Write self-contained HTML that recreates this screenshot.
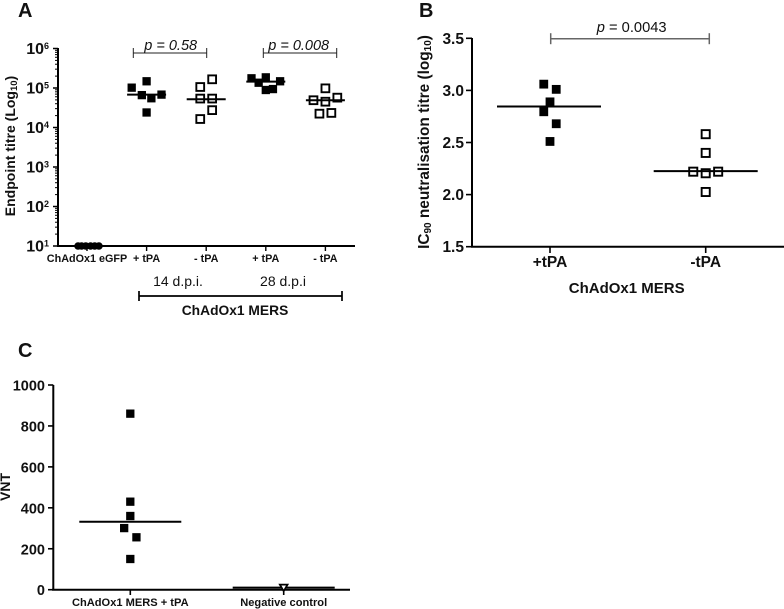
<!DOCTYPE html>
<html lang="en">
<head>
<meta charset="utf-8">
<title>Panel chart</title>
<style>
html,body{margin:0;padding:0;background:#fff;}
svg{display:block;font-family:"Liberation Sans",sans-serif;filter:blur(0.35px);}
text{fill:#111;}
.b{font-weight:bold;}
</style>
</head>
<body>
<svg id="fig" width="784" height="609" viewBox="0 0 784 609" xmlns="http://www.w3.org/2000/svg">
  <text class="b" x="18" y="17" font-size="20">A</text>
  <text class="b" x="419" y="17" font-size="20">B</text>
  <text class="b" x="18" y="357" font-size="20">C</text>

  <text class="b" font-size="14" text-anchor="middle" transform="translate(15,146) rotate(-90)">Endpoint titre (Log<tspan font-size="9.5" dy="2">10</tspan><tspan dy="-2">)</tspan></text>
  <text x="170.7" y="50" font-size="14.5" font-style="italic" text-anchor="middle">p = 0.58</text>
  <text x="298.7" y="50" font-size="14.5" font-style="italic" text-anchor="middle">p = 0.008</text>
  <text x="178" y="286" font-size="14" text-anchor="middle">14 d.p.i.</text>
  <text x="283" y="286" font-size="14" text-anchor="middle">28 d.p.i</text>
  <text class="b" x="235" y="315" font-size="13.8" text-anchor="middle">ChAdOx1 MERS</text>

  <text class="b" font-size="15.4" text-anchor="middle" transform="translate(429,142) rotate(-90)">IC<tspan font-size="10" dy="2">90</tspan><tspan dy="-2"> neutralisation titre (log</tspan><tspan font-size="10" dy="2">10</tspan><tspan dy="-2">)</tspan></text>
  <text x="631.7" y="32" font-size="14.7" text-anchor="middle"><tspan font-style="italic">p</tspan> = 0.0043</text>
  <text class="b" x="626.7" y="293" font-size="15" text-anchor="middle">ChAdOx1 MERS</text>

  <text class="b" font-size="14" text-anchor="middle" transform="translate(10,487) rotate(-90)">VNT</text>
  <g id="marks"></g>
</svg>
<script>
// ---------- Panel A data ----------
var aCategories = ['ChAdOx1 eGFP', '+ tPA', '- tPA', '+ tPA', '- tPA'];
var aTickExponents = [1, 2, 3, 4, 5, 6];
var aEgfp = [10, 10, 10, 10, 10, 10];
var aEgfpJitter = [-0.15, -0.09, -0.02, 0.06, 0.13, 0.2];
var aPlus14 = [102000, 148000, 66000, 55000, 68000, 24000];
var aPlus14Jitter = [-0.25, 0, -0.08, 0.08, 0.25, 0];
var aMinus14 = [106000, 166000, 54000, 54000, 27500, 16400];
var aMinus14Jitter = [-0.1, 0.1, -0.1, 0.1, 0.1, -0.1];
var aPlus28 = [176000, 186000, 136000, 148000, 89000, 94000];
var aPlus28Jitter = [-0.24, 0, -0.12, 0.24, 0, 0.12];
var aMinus28 = [98000, 57000, 49000, 45000, 22400, 23400];
var aMinus28Jitter = [0, 0.2, -0.2, 0, -0.1, 0.1];
var aCentres = [10, 68000, 52000, 145000, 49000];

// ---------- Panel B data ----------
var bCategories = ['+tPA', '-tPA'];
var bTicks = [1.5, 2.0, 2.5, 3.0, 3.5];
var bPlus = [3.06, 3.01, 2.89, 2.795, 2.68, 2.51];
var bPlusJitter = [-0.04, 0.04, 0, -0.04, 0.04, 0];
var bMinus = [2.58, 2.40, 2.22, 2.22, 2.205, 2.025];
var bMinusJitter = [0, 0, -0.08, 0.08, 0, 0];
var bCentres = [2.845, 2.225];

// ---------- Panel C data ----------
var cCategories = ['ChAdOx1 MERS + tPA', 'Negative control'];
var cTicks = [0, 200, 400, 600, 800, 1000];
var cPlus = [860, 430, 360, 301, 256, 150];
var cPlusJitter = [0, 0, 0, -0.04, 0.04, 0];
var cNegative = [10];
var cCentres = [332, 10];

// ---------- Axis functions ----------
function axAY(v) { return 246 - 39.5 * (Math.log10(v) - 1); }
function axAX(i) { return 87 + 59.6 * i; }
function axBY(v) { return 246.7 - 104.2 * (v - 1.5); }
function axBX(i) { return 550 + 155.7 * i; }
function axCY(v) { return 589.7 - 0.2047 * v; }
function axCX(i) { return 130.3 + 153.4 * i; }

var NS = 'http://www.w3.org/2000/svg';
var root = document.getElementById('marks');

function axisLine(x1, y1, x2, y2, w, colour) {
  var el = document.createElementNS(NS, 'line');
  
  
  el.setAttribute('x1', x1);
  el.setAttribute('y1', y1);
  el.setAttribute('x2', x2);
  el.setAttribute('y2', y2);
  el.setAttribute('stroke', colour || '#000');
  el.setAttribute('stroke-width', w);
  root.appendChild(el);
}
function tickMark(x1, y1, x2, y2, w) {
  var el = document.createElementNS(NS, 'line');
  
  
  el.setAttribute('x1', x1);
  el.setAttribute('y1', y1);
  el.setAttribute('x2', x2);
  el.setAttribute('y2', y2);
  el.setAttribute('stroke', '#000');
  el.setAttribute('stroke-width', w);
  root.appendChild(el);
}
function tickLabel(x, y, str, size, anchor) {
  var el = document.createElementNS(NS, 'text');
  
  
  el.setAttribute('class', 'b');
  el.setAttribute('x', x);
  el.setAttribute('y', y);
  el.setAttribute('font-size', size);
  el.setAttribute('text-anchor', anchor);
  el.textContent = str;
  root.appendChild(el);
  return el;
}
function centreLine(cx, cy, half) {
  var el = document.createElementNS(NS, 'line');
  
  
  el.setAttribute('x1', cx - half);
  el.setAttribute('y1', cy);
  el.setAttribute('x2', cx + half);
  el.setAttribute('y2', cy);
  el.setAttribute('stroke', '#000');
  el.setAttribute('stroke-width', 2);
  root.appendChild(el);
}
function squarePoint(cx, cy, size, filled) {
  var el = document.createElementNS(NS, 'rect');
  
  
  el.setAttribute('x', cx - size / 2);
  el.setAttribute('y', cy - size / 2);
  el.setAttribute('width', size);
  el.setAttribute('height', size);
  el.setAttribute('fill', filled ? '#000' : 'none');
  el.setAttribute('stroke', '#000');
  el.setAttribute('stroke-width', filled ? 0 : 1.9);
  root.appendChild(el);
}
function circlePoint(cx, cy, r) {
  var el = document.createElementNS(NS, 'circle');
  
  
  el.setAttribute('cx', cx);
  el.setAttribute('cy', cy);
  el.setAttribute('r', r);
  el.setAttribute('fill', '#000');
  root.appendChild(el);
}
function trianglePoint(cx, cy) {
  var el = document.createElementNS(NS, 'polygon');
  
  
  el.setAttribute('points', (cx - 3.8) + ',' + (cy - 3) + ' ' + (cx + 3.8) + ',' + (cy - 3) + ' ' + cx + ',' + (cy + 3.5));
  el.setAttribute('fill', '#fff');
  el.setAttribute('stroke', '#000');
  el.setAttribute('stroke-width', 1.8);
  root.appendChild(el);
}
function bracket(x1, x2, y, cap, colour, w) {
  axisLine(x1, y, x2, y, w, colour);
  axisLine(x1, y - cap, x1, y + cap, w, colour);
  axisLine(x2, y - cap, x2, y + cap, w, colour);
}
function squares(values, jitter, cat, xFn, yFn, spacing, size, filled) {
  values.forEach(function (v, k) {
    squarePoint(xFn(cat) + jitter[k] * spacing, yFn(v), size, filled);
  });
}

// ---------- Panel A ----------
axisLine(58, 48, 58, 247, 2);
axisLine(57, 246, 355, 246, 2);
aTickExponents.forEach(function (e) {
  var y = axAY(Math.pow(10, e));
  tickMark(53, y, 58, y, 1.5);
  var t = tickLabel(49, y + 5.5, '10', 16, 'end');
  var s = document.createElementNS(NS, 'tspan');
  
  
  s.setAttribute('font-size', '9');
  s.setAttribute('dy', '-5');
  s.textContent = String(e);
  t.appendChild(s);
  if (e < 6) {
    for (var m = 2; m < 10; m++) {
      var ym = axAY(m * Math.pow(10, e));
      tickMark(55, ym, 58, ym, 1);
    }
  }
});
aCategories.forEach(function (c, i) {
  tickMark(axAX(i), 246, axAX(i), 251, 1.4);
  tickLabel(axAX(i), 262, c, 10.8, 'middle');
});
centreLine(axAX(0), axAY(aCentres[0]), 13);
aEgfp.forEach(function (v, k) {
  circlePoint(axAX(0) + aEgfpJitter[k] * 59.6, axAY(v), 3.8);
});
squares(aPlus14, aPlus14Jitter, 1, axAX, axAY, 59.6, 8.3, true);
squares(aMinus14, aMinus14Jitter, 2, axAX, axAY, 59.6, 7.8, false);
squares(aPlus28, aPlus28Jitter, 3, axAX, axAY, 59.6, 8.3, true);
squares(aMinus28, aMinus28Jitter, 4, axAX, axAY, 59.6, 7.8, false);
[1, 2, 3, 4].forEach(function (i) {
  centreLine(axAX(i), axAY(aCentres[i]), 19.5);
});
bracket(133.3, 206.7, 53, 5, '#222', 1);
bracket(263.3, 336.7, 53, 5, '#222', 1);
bracket(139, 342, 296, 5, '#000', 1.7);

// ---------- Panel B ----------
axisLine(472, 38, 472, 247.5, 2);
axisLine(471, 246.7, 784, 246.7, 2);
bTicks.forEach(function (v) {
  var y = axBY(v);
  tickMark(466, y, 472, y, 1.6);
  tickLabel(464, y + 5.5, v.toFixed(1), 15.5, 'end');
});
bCategories.forEach(function (c, i) {
  tickMark(axBX(i), 246.7, axBX(i), 253, 1.6);
  tickLabel(axBX(i), 267, c, 15.5, 'middle');
});
squares(bPlus, bPlusJitter, 0, axBX, axBY, 155.7, 8.8, true);
squares(bMinus, bMinusJitter, 1, axBX, axBY, 155.7, 8.1, false);
centreLine(axBX(0) - 1, axBY(bCentres[0]), 52);
centreLine(axBX(1), axBY(bCentres[1]), 52);
bracket(550.7, 709.3, 38.7, 5.5, '#666', 1.5);

// ---------- Panel C ----------
axisLine(53.3, 385, 53.3, 590.5, 2);
axisLine(52, 589.7, 350, 589.7, 2);
cTicks.forEach(function (v) {
  var y = axCY(v);
  tickMark(48, y, 53.3, y, 1.6);
  tickLabel(45, y + 5.5, String(v), 14.5, 'end');
});
cCategories.forEach(function (c, i) {
  tickMark(axCX(i), 589.7, axCX(i), 595, 1.6);
  tickLabel(axCX(i), 606, c, 11.1, 'middle');
});
squares(cPlus, cPlusJitter, 0, axCX, axCY, 153.4, 8.3, true);
centreLine(axCX(0), axCY(cCentres[0]), 51);
centreLine(axCX(1), axCY(cCentres[1]), 51);
cNegative.forEach(function (v) {
  trianglePoint(axCX(1), axCY(v));
});
</script>
</body>
</html>
